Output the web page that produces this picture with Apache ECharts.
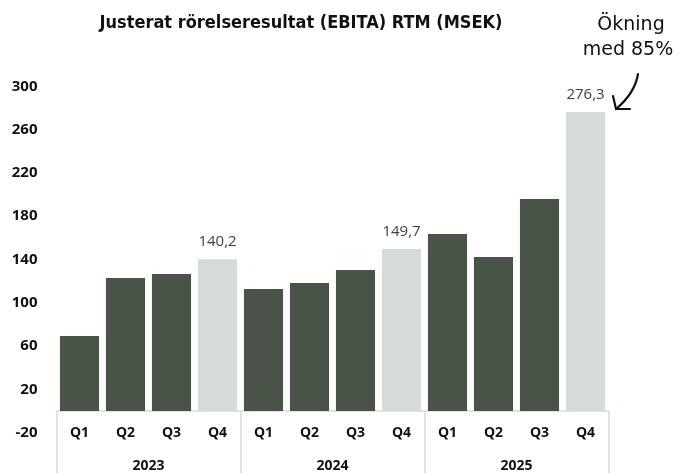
<!DOCTYPE html>
<html>
<head>
<meta charset="utf-8">
<script src="https://cdn.jsdelivr.net/npm/echarts@6/dist/echarts.min.js"></script>
<style>
  html, body { margin: 0; padding: 0; background: #fff; }
  #main { width: 680px; height: 473px; }
</style>
</head>
<body>
<div id="main"></div>
<script>
// data
var quarters = ['Q1','Q2','Q3','Q4','Q1','Q2','Q3','Q4','Q1','Q2','Q3','Q4'];
var years = ['2023', '2024', '2025'];
var ebita = [69.3, 122.9, 126.6, 140.2, 112.8, 118.3, 130.3, 149.7, 163.6, 142.3, 195.9, 276.3];
var yTicks = [-20, 300, 40]; // min, max, step

var darkColor = '#4a5348';
var lightColor = '#d4dbd8';
var boxColor = '#d9d9d9';

// Q4 bars are light and labelled
var barData = ebita.map(function (v, i) {
    var isQ4 = quarters[i] === 'Q4';
    return {
        value: v,
        itemStyle: { color: isQ4 ? lightColor : darkColor },
        label: { show: isQ4 }
    };
});

var myChart = echarts.init(document.getElementById('main'));
myChart.setOption({
    animation: false,
    title: {
        text: 'Justerat rörelseresultat (EBITA) RTM (MSEK)',
        left: 296,
        textAlign: 'center',
        top: 9,
        textStyle: {
            fontFamily: '"Liberation Sans Narrow", "DejaVu Sans Condensed", sans-serif',
            fontWeight: 'bold',
            fontSize: 18,
            color: '#111'
        }
    },
    grid: {
        left: 56.5,
        right: 71.5,
        top: 86.4,
        bottom: 40.4,
        containLabel: false,
        outerBoundsMode: 'none'
    },
    xAxis: [
        {
            // years, sits on zero and draws the box
            type: 'category',
            data: years,
            position: 'bottom',
            axisLine: { onZero: true, lineStyle: { color: boxColor, width: 1.5 } },
            axisTick: { show: true, interval: 0, length: 64, lineStyle: { color: boxColor, width: 1.5 } },
            axisLabel: {
                interval: 0,
                margin: 33,
                verticalAlign: 'middle',
                lineHeight: 14,
                fontFamily: '"Open Sans", sans-serif',
                fontWeight: 'bold',
                fontSize: 14,
                color: '#111'
            },
            splitLine: { show: false }
        },
        {
            type: 'category',
            data: quarters,
            position: 'bottom',
            axisLine: { show: false, onZero: false },
            axisTick: { show: false },
            axisLabel: {
                interval: 0,
                margin: 0,
                verticalAlign: 'middle',
                fontFamily: '"Open Sans", sans-serif',
                fontWeight: 'bold',
                fontSize: 14,
                color: '#111'
            },
            splitLine: { show: false }
        }
    ],
    yAxis: {
        type: 'value',
        min: yTicks[0],
        max: yTicks[1],
        interval: yTicks[2],
        axisLine: { show: false },
        axisTick: { show: false },
        splitLine: { show: false },
        axisLabel: {
            margin: 19,
            fontFamily: '"Open Sans", sans-serif',
            fontWeight: 'bold',
            fontSize: 15,
            color: '#111'
        }
    },
    series: [
        {
            type: 'bar',
            xAxisIndex: 1,
            data: barData,
            barCategoryGap: '15%',
            label: {
                position: 'top',
                distance: 10,
                fontFamily: '"Open Sans", sans-serif',
                fontSize: 15,
                color: '#404040',
                formatter: function (p) { return String(p.value).replace('.', ','); }
            }
        }
    ],
    graphic: [
        {
            type: 'text',
            x: 631,
            y: 25,
            style: {
                text: 'Ökning',
                font: '19px "DejaVu Sans", sans-serif',
                fill: '#111',
                align: 'center',
                verticalAlign: 'middle'
            }
        },
        {
            type: 'text',
            x: 628,
            y: 50,
            style: {
                text: 'med 85%',
                font: '19px "DejaVu Sans", sans-serif',
                fill: '#111',
                align: 'center',
                verticalAlign: 'middle'
            }
        },
        {
            type: 'bezierCurve',
            shape: { x1: 638, y1: 74, x2: 616, y2: 109, cpx1: 635, cpy1: 93 },
            style: { stroke: '#111', lineWidth: 2.2, fill: null, lineCap: 'round' }
        },
        {
            type: 'polyline',
            shape: { points: [[613, 96], [616, 109], [630, 109]] },
            style: { stroke: '#111', lineWidth: 2.2, fill: null, lineCap: 'round', lineJoin: 'round' }
        }
    ]
});
</script>
</body>
</html>
